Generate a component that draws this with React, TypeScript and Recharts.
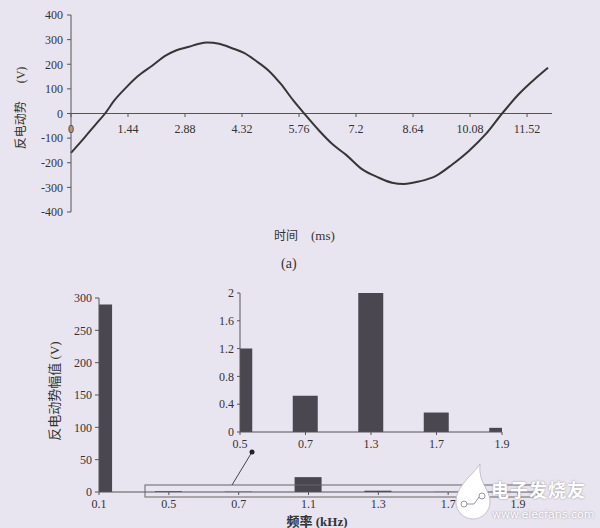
import React from "react";
import {
  Bar,
  BarChart,
  Line,
  LineChart,
  ReferenceLine,
  XAxis,
  YAxis
} from "recharts";

// (a) back-EMF waveform
const timeMs = [0, 0.33, 0.63, 0.86, 1.09, 1.39, 1.67, 2.05, 2.4, 2.65, 2.98, 3.23, 3.44, 3.74, 4.07, 4.37, 4.67, 5.0, 5.3, 5.62, 5.89, 6.27, 6.6, 6.95, 7.35, 7.78, 8.11, 8.41, 8.79, 9.22, 9.63, 10.05, 10.48, 10.89, 11.32, 11.75, 12.05];
const emfV = [-160, -100, -43, 0, 52, 105, 149, 194, 236, 256, 271, 283, 288, 283, 265, 246, 214, 173, 120, 52, 0, -70, -124, -168, -226, -261, -281, -286, -276, -253, -207, -152, -83, 0, 80, 145, 186];
const timeTicks = [0, 1.44, 2.88, 4.32, 5.76, 7.2, 8.64, 10.08, 11.52];
const emfTicks = [-400, -300, -200, -100, 0, 100, 200, 300, 400];

// (b) harmonic spectrum
const freqKHz = ["0.1", "0.5", "0.7", "1.1", "1.3", "1.7", "1.9"];
const amplitudeV = [290, 1.2, 0.52, 23, 2.0, 0.28, 0.06];
const amplitudeTicks = [0, 50, 100, 150, 200, 250, 300];

// inset (zoomed small harmonics)
const insetFreq = ["0.5", "0.7", "1.3", "1.7", "1.9"];
const insetAmp = [1.2, 0.52, 2.0, 0.28, 0.06];
const insetTicks = [0, 0.4, 0.8, 1.2, 1.6, 2];

const SERIF = "'Liberation Serif', 'DejaVu Serif', serif";
const CJK = "'Noto Sans CJK SC', sans-serif";
const INK = "#333";
const AXIS = "#555";
const BAR = "#4a4751";

const waveData = timeMs.map((t, i) => ({ t, v: emfV[i] }));
const spectrumData = freqKHz.map((f, i) => ({ f, v: amplitudeV[i] }));
const insetData = insetFreq.map((f, i) => ({ f, v: insetAmp[i] }));

const tickStyle = { fill: INK, fontSize: 12, fontFamily: SERIF };

// x ticks of the waveform sit on the zero line, not at the bottom
function ZeroLineTick(props: any) {
  const { x, y, payload } = props;
  const zeroY = y - 106;
  return (
    <g>
      <line x1={x} x2={x} y1={zeroY} y2={zeroY + 3} stroke={AXIS} />
      <text x={x} y={zeroY + 19} textAnchor="middle" fill={INK} fontSize={12} fontFamily={SERIF}>
        {payload.value}
      </text>
    </g>
  );
}

export default function App() {
  return (
    <div
      style={{
        position: "absolute",
        left: 0,
        top: 0,
        width: 600,
        height: 528,
        background: "#e9e5f0",
        overflow: "hidden"
      }}
    >
      <div style={{ position: "absolute", left: 0, top: 0 }}>
        <LineChart width={600} height={248} data={waveData} margin={{ top: 15, right: 48, left: 31, bottom: 0 }}>
          <XAxis
            dataKey="t"
            type="number"
            domain={[0, 12.15]}
            ticks={timeTicks}
            axisLine={false}
            tickLine={false}
            tick={<ZeroLineTick />}
            height={36}
          />
          <YAxis
            type="number"
            domain={[-400, 400]}
            ticks={emfTicks}
            width={40}
            tick={tickStyle}
            tickSize={4}
            tickMargin={4}
            stroke={AXIS}
          />
          <ReferenceLine y={0} stroke={AXIS} strokeWidth={1} />
          <Line
            dataKey="v"
            type="monotone"
            stroke="#363636"
            strokeWidth={2}
            dot={false}
            isAnimationActive={false}
          />
        </LineChart>
      </div>

      {/* axis titles of (a) */}
      <div
        style={{
          position: "absolute",
          left: 20,
          top: 108,
          transform: "translate(-50%, -50%) rotate(-90deg)",
          whiteSpace: "pre",
          fontSize: 12,
          color: INK,
          fontFamily: CJK
        }}
      >
        反电动势<span style={{ fontFamily: SERIF }}>{"      (V)"}</span>
      </div>
      <div style={{ position: "absolute", left: 274, top: 226, fontSize: 12, color: INK, fontFamily: CJK, whiteSpace: "pre" }}>
        时间<span style={{ fontFamily: SERIF, fontSize: 13 }}>{"    (ms)"}</span>
      </div>
      <div style={{ position: "absolute", left: 281, top: 256, fontSize: 14, color: INK, fontFamily: SERIF }}>(a)</div>

      {/* (b) spectrum */}
      <div style={{ position: "absolute", left: 0, top: 270 }}>
        <BarChart width={600} height={258} data={spectrumData} margin={{ top: 28, right: 60, left: 54, bottom: 0 }}>
          <XAxis
            dataKey="f"
            scale="point"
            padding={{ left: 0, right: 22 }}
            allowDataOverflow
            height={36}
            tick={tickStyle}
            tickSize={3}
            tickMargin={4}
            stroke={AXIS}
          />
          <YAxis
            type="number"
            domain={[0, 300]}
            ticks={amplitudeTicks}
            width={45}
            tick={tickStyle}
            tickSize={4}
            tickMargin={3}
            stroke={AXIS}
          />
          <Bar dataKey="v" fill={BAR} barSize={27} isAnimationActive={false} />
        </BarChart>
      </div>

      <div style={{ position: "absolute", left: 200, top: 280 }}>
        <BarChart width={320} height={182} data={insetData} margin={{ top: 13, right: 18, left: 0, bottom: 0 }}>
          <XAxis
            dataKey="f"
            scale="point"
            padding={{ left: 0, right: 0 }}
            allowDataOverflow
            height={30}
            tick={tickStyle}
            tickSize={3}
            tickMargin={4}
            stroke={AXIS}
          />
          <YAxis
            type="number"
            domain={[0, 2]}
            ticks={insetTicks}
            width={40}
            tick={tickStyle}
            tickSize={3}
            tickMargin={3}
            stroke={AXIS}
          />
          <Bar dataKey="v" fill={BAR} barSize={25} isAnimationActive={false} />
        </BarChart>
      </div>

      {/* zoom box and pointer */}
      <svg width={600} height={528} style={{ position: "absolute", left: 0, top: 0, pointerEvents: "none" }}>
        <rect x={145} y={485} width={392} height={12} fill="none" stroke="#666" strokeWidth={1} />
        <line x1={232} y1={485} x2={252} y2={452} stroke="#444" strokeWidth={1} />
        <circle cx={252} cy={452} r={2.5} fill="#222" />
      </svg>

      <div
        style={{
          position: "absolute",
          left: 53,
          top: 391,
          transform: "translate(-50%, -50%) rotate(-90deg)",
          whiteSpace: "pre",
          fontSize: 13,
          color: INK,
          fontFamily: CJK
        }}
      >
        反电动势幅值<span style={{ fontFamily: SERIF }}>{" (V)"}</span>
      </div>
      <div
        style={{
          position: "absolute",
          left: 317,
          top: 520,
          transform: "translate(-50%, -50%)",
          whiteSpace: "pre",
          fontSize: 13,
          fontWeight: 700,
          color: INK,
          fontFamily: CJK
        }}
      >
        频率<span style={{ fontFamily: SERIF }}>{" (kHz)"}</span>
      </div>

      {/* watermark */}
      <div
        style={{
          position: "absolute",
          left: 491,
          top: 476,
          color: "#fff",
          fontFamily: CJK,
          fontSize: 18,
          fontWeight: 700,
          letterSpacing: 1,
          textShadow: "0 0 2px #8a8592"
        }}
      >
        电子发烧友
      </div>
      <div
        style={{
          position: "absolute",
          left: 492,
          top: 508,
          color: "#fff",
          fontFamily: "'DejaVu Sans', sans-serif",
          fontSize: 11,
          textShadow: "0 0 2px #8a8592"
        }}
      >
        www.elecfans.com
      </div>
      <svg width={45} height={60} style={{ position: "absolute", left: 450, top: 462 }}>
        <path d="M30 2 C22 14 6 24 6 40 A17 17 0 0 0 40 40 C40 26 28 22 30 2 Z" fill="#fff" stroke="#b9b4c0" strokeWidth={0.8} />
        <circle cx={14} cy={42} r={3} fill="none" stroke="#9a95a2" />
        <circle cx={32} cy={34} r={3} fill="none" stroke="#9a95a2" />
        <path d="M17 42 L24 42 L29 35" fill="none" stroke="#9a95a2" />
      </svg>
    </div>
  );
}
